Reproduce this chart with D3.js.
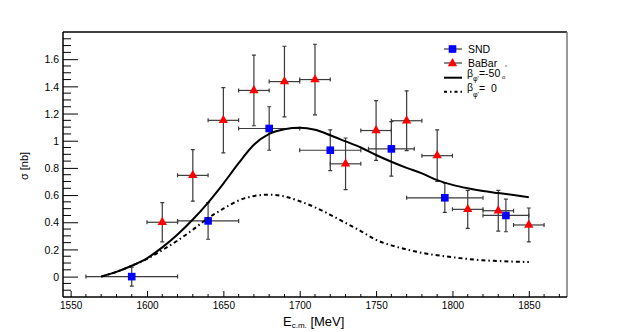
<!DOCTYPE html>
<html>
<head>
<meta charset="utf-8">
<script src="https://cdn.jsdelivr.net/npm/d3@7"></script>
<style>
    body { margin: 0; background: #fff; }
    text { font-family: "Liberation Sans", Arial, sans-serif; fill: #000; }
</style>
</head>
<body>
<script>
// SND points
const snd_energy = [1590, 1640, 1680, 1720, 1760, 1795, 1835];
const snd_energy_err = [30, 20, 20, 20, 15, 25, 15];
const snd_sigma = [0.00, 0.41, 1.09, 0.93, 0.94, 0.58, 0.45];
const snd_sigma_err = [0.07, 0.135, 0.16, 0.15, 0.20, 0.107, 0.12];

// BaBar points
const babar_energy = [1610, 1630, 1650, 1670, 1690, 1710, 1730, 1750, 1770, 1790, 1810, 1830, 1850];
const babar_energy_err = [10, 10, 10, 10, 10, 10, 10, 10, 10, 10, 10, 10, 10];
const babar_sigma = [0.40, 0.745, 1.15, 1.37, 1.435, 1.45, 0.83, 1.075, 1.147, 0.89, 0.495, 0.485, 0.38];
const babar_sigma_err = [0.145, 0.19, 0.24, 0.26, 0.26, 0.26, 0.19, 0.22, 0.22, 0.19, 0.14, 0.15, 0.125];

// model curves
const curve_energy = [1570, 1580, 1590, 1600, 1610, 1620, 1630, 1640, 1650, 1660, 1670, 1680, 1690, 1700,
    1710, 1720, 1730, 1740, 1750, 1760, 1770, 1780, 1790, 1800, 1810, 1820, 1830, 1840, 1850];
const curve_beta_m50 = [0, 0.035, 0.08, 0.135, 0.215, 0.31, 0.42, 0.545, 0.685, 0.835, 0.97, 1.05, 1.085, 1.095,
    1.08, 1.04, 0.995, 0.95, 0.895, 0.845, 0.80, 0.76, 0.71, 0.675, 0.65, 0.63, 0.615, 0.60, 0.584];
const curve_beta_0 = [0, 0.035, 0.08, 0.13, 0.195, 0.265, 0.345, 0.43, 0.50, 0.56, 0.593, 0.603, 0.59, 0.555,
    0.51, 0.455, 0.395, 0.335, 0.27, 0.23, 0.20, 0.175, 0.157, 0.143, 0.13, 0.12, 0.115, 0.11, 0.108];

// axis ticks
const x_major_ticks = [1550, 1600, 1650, 1700, 1750, 1800, 1850];
const y_major_ticks = [0, 0.2, 0.4, 0.6, 0.8, 1, 1.2, 1.4, 1.6];

const WIDTH = 630;
const HEIGHT = 332;
const FRAME = {left: 63, right: 567, top: 32, bottom: 297};
const ERR_COLOR = "#3a3a3a";

const svg = d3.select("body").append("svg")
    .attr("width", WIDTH)
    .attr("height", HEIGHT);

const x = d3.scaleLinear().domain([1545, 1875]).range([FRAME.left, FRAME.right]);
const y = d3.scaleLinear().domain([-0.15, 1.8]).range([FRAME.bottom, FRAME.top]);

// frame
svg.append("line")
    .attr("x1", FRAME.left).attr("x2", FRAME.right)
    .attr("y1", FRAME.top).attr("y2", FRAME.top)
    .attr("stroke", "#000").attr("stroke-width", 1.5);
svg.append("line")
    .attr("x1", FRAME.right).attr("x2", FRAME.right)
    .attr("y1", FRAME.top).attr("y2", FRAME.bottom)
    .attr("stroke", "#777").attr("stroke-width", 1.5);

// x axis, ticks pointing inwards
const x_minor_ticks = d3.range(1550, 1875, 10).filter(v => !x_major_ticks.includes(v));
const x_axis = svg.append("g").attr("transform", `translate(0,${FRAME.bottom})`);
x_axis.call(d3.axisBottom(x).tickValues(x_major_ticks).tickSize(-6).tickPadding(0).tickFormat(d3.format("d")))
    .call(g => g.select(".domain").attr("stroke", "#000").attr("stroke-width", 1.5).attr("d", `M${FRAME.left},0H${FRAME.right}`));
x_axis.selectAll(".tick text")
    .attr("y", 12).attr("dy", 0)
    .style("font-size", "10px");
x_axis.append("g").selectAll("line")
    .data(x_minor_ticks)
    .enter().append("line")
    .attr("x1", d => x(d)).attr("x2", d => x(d))
    .attr("y1", 0).attr("y2", -3)
    .attr("stroke", "#000");

// y axis
const y_minor_ticks = d3.range(-0.1, 1.8, 0.05).filter(v => !y_major_ticks.some(t => Math.abs(t - v) < 1e-6));
const y_axis = svg.append("g").attr("transform", `translate(${FRAME.left},0)`);
y_axis.call(d3.axisLeft(y).tickValues(y_major_ticks).tickSize(-15).tickPadding(0).tickFormat(d3.format("~g")))
    .call(g => g.select(".domain").attr("stroke", "#000").attr("stroke-width", 1.5).attr("d", `M0,${FRAME.top}V${FRAME.bottom}`));
y_axis.selectAll(".tick text")
    .attr("x", -4).attr("dy", "0.35em")
    .style("font-size", "10.5px");
y_axis.append("g").selectAll("line")
    .data(y_minor_ticks)
    .enter().append("line")
    .attr("x1", 0).attr("x2", 8)
    .attr("y1", d => y(d)).attr("y2", d => y(d))
    .attr("stroke", "#000");

// axis titles
const x_title = svg.append("text")
    .attr("x", 283).attr("y", 326)
    .style("font-size", "13px");
x_title.append("tspan").text("E");
x_title.append("tspan").text("c.m.").attr("dy", 2).style("font-size", "8px");
x_title.append("tspan").text(" [MeV]").attr("dy", -2);

svg.append("text")
    .attr("transform", "translate(28,166) rotate(-90)")
    .attr("text-anchor", "middle")
    .style("font-size", "11px")
    .text("σ [nb]");

// error bars + markers
const draw_points = function (energy, energy_err, sigma, sigma_err, draw_marker) {
    const points = energy.map((e, i) => ({e, de: energy_err[i], s: sigma[i], ds: sigma_err[i]}));
    const group = svg.append("g");
    const bars = group.selectAll("g.bar").data(points).enter().append("g").attr("class", "bar")
        .attr("stroke", ERR_COLOR).attr("stroke-width", 1.2);
    bars.append("line")
        .attr("x1", d => x(d.e - d.de)).attr("x2", d => x(d.e + d.de))
        .attr("y1", d => y(d.s)).attr("y2", d => y(d.s));
    bars.append("line")
        .attr("x1", d => x(d.e)).attr("x2", d => x(d.e))
        .attr("y1", d => y(d.s - d.ds)).attr("y2", d => y(d.s + d.ds));
    // small end caps
    bars.append("path")
        .attr("d", d => {
            const cx = x(d.e), cy = y(d.s);
            const l = x(d.e - d.de), r = x(d.e + d.de), t = y(d.s + d.ds), b = y(d.s - d.ds);
            return `M${l},${cy - 2}V${cy + 2}M${r},${cy - 2}V${cy + 2}M${cx - 2},${t}H${cx + 2}M${cx - 2},${b}H${cx + 2}`;
        });
    draw_marker(group.selectAll("path.marker").data(points).enter().append("path").attr("class", "marker")
        .attr("transform", d => `translate(${x(d.e)},${y(d.s)})`));
};

const square = sel => sel.attr("d", d3.symbol(d3.symbolSquare, 58)).attr("fill", "#0000ff");
const triangle = sel => sel.attr("d", d3.symbol(d3.symbolTriangle, 38)).attr("fill", "#ff0000");

draw_points(snd_energy, snd_energy_err, snd_sigma, snd_sigma_err, square);
draw_points(babar_energy, babar_energy_err, babar_sigma, babar_sigma_err, triangle);

// model curves
const curve_line = d3.line()
    .x(d => x(d[0]))
    .y(d => y(d[1]))
    .curve(d3.curveMonotoneX);

svg.append("path")
    .datum(curve_energy.map((e, i) => [e, curve_beta_m50[i]]))
    .attr("d", curve_line)
    .attr("fill", "none").attr("stroke", "#000").attr("stroke-width", 2);

svg.append("path")
    .datum(curve_energy.map((e, i) => [e, curve_beta_0[i]]))
    .attr("d", curve_line)
    .attr("fill", "none").attr("stroke", "#000").attr("stroke-width", 2)
    .attr("stroke-dasharray", "4,3,1.5,3");

// legend
const legend = svg.append("g").style("font-size", "10.5px");
const LX0 = 444, LX1 = 462, LMX = 452.5, LTX = 468;

legend.append("line").attr("x1", LX0).attr("x2", LX1).attr("y1", 49).attr("y2", 49)
    .attr("stroke", ERR_COLOR).attr("stroke-width", 1.2);
square(legend.append("path").attr("transform", `translate(${LMX},49)`));
legend.append("text").attr("x", LTX).attr("y", 52.5).text("SND");

legend.append("line").attr("x1", LX0).attr("x2", LX1).attr("y1", 63).attr("y2", 63)
    .attr("stroke", ERR_COLOR).attr("stroke-width", 1.2);
triangle(legend.append("path").attr("transform", `translate(${LMX},63.5)`));
legend.append("text").attr("x", LTX).attr("y", 66.5).text("BaBar");
legend.append("text").attr("x", 505).attr("y", 69).style("font-size", "5px").text("°");

legend.append("line").attr("x1", LX0).attr("x2", LX1).attr("y1", 77.7).attr("y2", 77.7)
    .attr("stroke", "#000").attr("stroke-width", 2);
const beta_m50 = legend.append("text").attr("x", LTX - 1).attr("y", 77);
beta_m50.append("tspan").text("β");
beta_m50.append("tspan").text("φ'").attr("dy", 4).style("font-size", "7px");
beta_m50.append("tspan").text("=-50").attr("dy", -4);
legend.append("text").attr("x", 502).attr("y", 79).style("font-size", "6px").text("o");

legend.append("line").attr("x1", LX0).attr("x2", LX1).attr("y1", 91.7).attr("y2", 91.7)
    .attr("stroke", "#000").attr("stroke-width", 2)
    .attr("stroke-dasharray", "3,3,1.5,3");
const beta_0 = legend.append("text").attr("x", LTX - 1).attr("y", 90.5);
beta_0.append("tspan").text("β");
beta_0.append("tspan").text("φ'").attr("dy", 6).style("font-size", "7px");
beta_0.append("tspan").text("=\u00a0\u00a00").attr("dy", -5);
</script>
</body>
</html>
